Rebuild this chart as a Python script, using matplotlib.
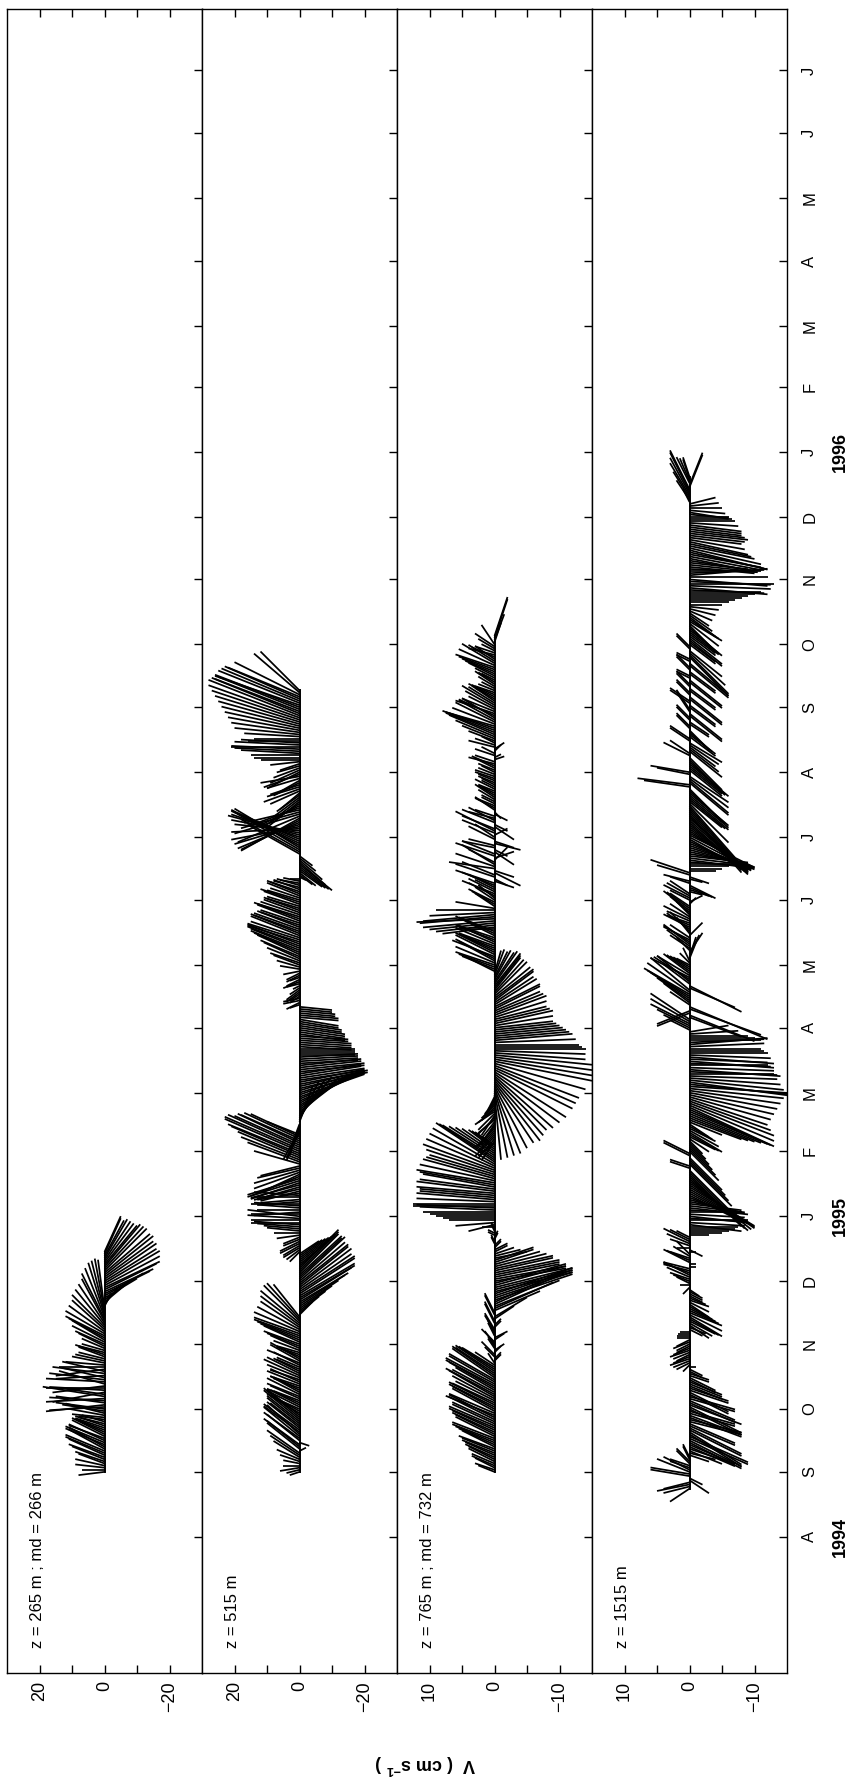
import numpy as np
import matplotlib
matplotlib.use('Agg')
import matplotlib.pyplot as plt
import matplotlib.dates as mdates
import matplotlib.transforms as mtransforms
from matplotlib.collections import LineCollection
from datetime import datetime

plt.rcParams['font.family'] = ['Liberation Sans', 'DejaVu Sans']
plt.rcParams['mathtext.fontset'] = 'custom'
plt.rcParams['mathtext.rm'] = 'Liberation Sans'
plt.rcParams['mathtext.bf'] = 'Liberation Sans:bold'

# --- data: one stick per day, day offsets counted from 1 Sep 1994
# v = across component (cm/s, drawn across the panel), u = along-time component (cm/s)
t_ref = datetime(1994, 9, 1)

start1 = 0
v1 = [8, 7, 9, 9, 8, 9, 10, 11, 11, 12,
      12, 11, 11, 12, 12, 11, 11, 10, 10, 9,
      8, 9, 9, 8, 7, 8, 10, 11, 12, 13,
      15, 17, 18, 15, 17, 18, 19, 14, 16, 17,
      18, 16, 14, 18, 17, 13, 15, 16, 13, 15,
      14, 12, 10, 9, 8, 8, 9, 8, 7, 7,
      8, 9, 10, 10, 11, 12, 12, 11, 10, 10,
      9, 8, 7, 7, 6, 5, 4, 3, 2, -2,
      -4, -6, -8, -10, -12, -14, -15, -16, -17, -17,
      -17, -16, -16, -15, -15, -14, -13, -12, -11, -10,
      -9, -8, -7, -6, -5, -5]
u1 = [-1, 0, 1, 2, 3, 3, 4, 4, 5, 5,
      5, 6, 6, 5, 5, 5, 4, 5, 5, 4,
      3, 3, 3, 2, 2, 1, 1, 2, 3, 2,
      2, -1, -2, 2, 1, -1, 3, 2, -3, 1,
      0, -2, 4, 1, 2, 3, -1, 2, 3, -2,
      0, 1, 2, 2, 2, 3, 3, 2, 2, 3,
      4, 4, 5, 6, 6, 6, 7, 8, 9, 10,
      11, 12, 13, 14, 15, 16, 16, 16, 15, 4,
      5, 5, 6, 6, 7, 7, 7, 8, 8, 9,
      10, 10, 11, 11, 12, 12, 13, 13, 13, 12,
      12, 12, 12, 11, 11, 11]

start2 = 0
v2 = [3, 4, 6, 5, 5, 6, 7, 8, 9, 10,
      -2, 10, 10, 11, -3, 10, 11, 11, 10, 11,
      11, 10, 9, 10, 10, 11, 11, 10, 10, 9,
      9, 10, 10, 9, 8, 9, 10, 10, 9, 8,
      8, 9, 10, 9, 9, 10, 11, 10, 8, 7,
      7, 8, 10, 9, 9, 7, 6, 7, 8, 9,
      10, 11, 11, 12, 13, 14, 14, 14, 13, 12,
      12, 12, 11, 10, 8, -4, -6, -8, -10, -12,
      -14, -15, -16, -17, -17, -17, -17, -16, -16, -15,
      -15, -14, -14, -13, -13, -12, -12, -12, -11, -11,
      -10, -9, -8, -7, -6, 3, 4, 5, 5, 6,
      6, 5, 5, 7, 8, 10, 11, 13, 14, 15,
      15, 16, 16, 15, 14, 13, 13, 14, 15, 13,
      12, 13, 14, 13, 12, 13, 14, 15, 15, 16,
      16, 15, 13, 14, 14, 13, 12, 14, 16, 18,
      19, 21, 22, 23, 23, 22, 20, 19, 18, 17,
      15, 10, 4, 5, 4, 3, 3, -4, -6, -8,
      -10, -12, -13, -14, -15, -16, -17, -18, -19, -20,
      -20, -20, -20, -21, -21, -20, -20, -20, -20, -19,
      -19, -20, -20, -19, -19, -18, -18, -18, -18, -17,
      -17, -17, -17, -16, -16, -16, -16, -15, -15, -14,
      -14, -14, -14, -13, -13, -12, -12, -12, -12, -11,
      -11, -10, -10, 3, 4, 5, 5, 3, 3, 4,
      4, 3, 2, 4, 5, 4, 3, 4, 4, 5,
      6, 7, 8, 9, 10, 11, 12, 13, 14, 15,
      15, 16, 16, 16, 16, 15, 15, 15, 14, 14,
      13, 12, 12, 13, 14, 13, 12, 11, 11, 10,
      10, 11, 12, 10, 9, 10, 10, 9, 8, 8,
      7, 6, 5, 3, -2, -4, -5, -7, -8, -9,
      -10, -8, -7, -5, -4, 16, 18, 19, 20, 21,
      21, 20, 19, 21, 22, 21, 20, 21, 21, 20,
      19, 18, 18, 19, 20, 18, 17, 14, 12, 11,
      10, 9, 8, 7, 6, 9, 11, 10, 9, 8,
      7, 10, 12, 11, 10, 9, 8, 7, 6, 9,
      12, 14, 15, 18, 20, 21, 21, 20, 18, 16,
      14, 17, 20, 21, 22, 23, 24, 25, 26, 27,
      28, 28, 27, 26, 25, 26, 26, 25, 24, 23,
      22, 20, 14, 12]
u2 = [-1, -1, -1, 0, 1, 2, 3, 5, 6, 7,
      1, 8, 8, 8, -1, 8, 8, 9, 9, 8,
      8, 8, 7, 8, 8, 9, 9, 8, 6, 5,
      4, 5, 5, 4, 3, 4, 4, 5, 5, 4,
      3, 3, 4, 4, 3, 4, 5, 5, 4, 3,
      3, 4, 4, 5, 5, 3, 2, 2, 3, 4,
      4, 4, 5, 5, 5, 5, 5, 6, 7, 8,
      9, 10, 11, 11, 10, 4, 5, 6, 7, 8,
      9, 9, 10, 10, 10, 11, 11, 11, 12, 12,
      12, 12, 13, 12, 12, 12, 12, 12, 10, 9,
      8, 7, 6, 5, 4, -3, -3, -3, -3, -3,
      -3, -2, -2, -1, 0, 1, 1, 1, 1, 0,
      0, 1, 2, 0, -1, 0, 1, 1, 0, -1,
      -1, 0, 1, -2, -3, -3, -4, -4, -5, -5,
      -5, -6, -6, -5, -4, -3, -3, 4, 6, 7,
      8, 9, 9, 10, 10, 10, 9, 9, 8, 8,
      7, 4, -8, -9, -10, -9, -8, 11, 12, 12,
      12, 11, 10, 10, 10, 9, 9, 8, 8, 7,
      7, 6, 6, 5, 5, 4, 4, 3, 3, 3,
      3, 2, 2, 2, 2, 1, 1, 1, 1, 0,
      0, 0, 0, -1, -1, -1, -1, -1, -1, -2,
      -2, -2, -2, -2, -2, -2, -2, -1, -1, -1,
      -1, -1, -1, -1, -2, -1, -1, -2, -2, -3,
      -3, -2, -1, -1, -2, -2, -1, -2, -2, -1,
      1, 2, 3, 3, 4, 5, 5, 6, 6, 6,
      6, 6, 6, 5, 5, 5, 6, 6, 5, 5,
      5, 4, 4, 5, 5, 4, 4, 4, 4, 3,
      3, 4, 4, 3, 3, 4, 4, 3, 3, 2,
      2, 1, 1, 0, -1, -3, -4, -5, -6, -7,
      -8, -7, -6, -4, -3, 9, 10, 11, 12, 11,
      10, 9, 8, 7, 6, 4, 2, -1, -4, -6,
      -8, -9, -10, -8, -6, -5, -4, -5, -6, -7,
      -8, -7, -6, -5, -5, -4, -4, -3, -3, -4,
      -4, -3, -2, -4, -5, -4, -3, -2, -2, -1,
      0, 0, 0, 1, 1, 1, 0, 1, 1, 0,
      0, 1, 2, 3, 4, 5, 6, 7, 8, 9,
      10, 11, 11, 10, 10, 10, 9, 10, 10, 10,
      9, 10, 12, 12]

start3 = 0
v3 = [2.5, 3, 3, 3.5, 3.5, 4, 4, 4.5, 4.5, 5,
      5, 5.5, 5, 5.5, 6, 6.5, 6.5, 6, 6, 6.5,
      6.5, 7, 7, 6.5, 6.5, 7, 7, 7.5, 7, 6.5,
      6.5, 7, 7, 6.5, 6, 6.5, 7, 7.5, 6.5, 6,
      7, 7.5, 7.5, 7, 7, 6.5, 6.5, 6, 6, 5.5,
      5, 3, 1, -1, -1, 1.5, 2, -1, -1.5, 1,
      1, 1.5, 2, -1.5, -2, 1, 1, 1.5, 1.5, -1,
      -1, 1.5, 1.5, -3, -5, 1.5, 1.5, -7, -9, -10,
      -11, -11, -12, -12, -12, -12, -12, -12, -12, -11,
      -11, -11, -11, -10, -10, -10, -9, -9, -8, -7,
      -6, -6, -5, -4, -3, -2, -2, -1, -1, 0.5,
      0.5, -0.5, -0.5, 1, 1, 0.5, 0.5, 2, 4, 6,
      7, 8, 9, 10, 11, 11.5, 12, 12.5, 12.5, 12,
      12, 11.5, 11.5, 12, 12, 11.5, 11, 11.5, 12, 11.5,
      11, 10.5, 10, 10.5, 11, 10.5, 10, 9.5, 9, 8.5,
      8, 7, 6, 5, 4, 3.5, 3, 2.5, 2, 2.5,
      3, 2.5, 2, 2.5, 3, 2.5, 2, 2, 2.5, 2.5,
      2, 2.5, 3, 2.5, 2, 2, 1.5, 1.5, 1, 1,
      -1, -2, -3, -4, -5, -6, -7, -7.5, -8, -9,
      -10, -11, -12, -12.5, -13, -14, -15, -15, -15, -15,
      -14, -14, -14, -13.5, -13, -12.5, -12, -11.5, -11, -10.5,
      -10, -9.5, -9, -9, -9, -8.5, -8, -8, -8, -7.5,
      -7, -7, -7, -6.5, -6, -6, -6, -5.5, -5, -4.5,
      -4, -4, -4, -3.5, -3, -2.5, -2, -1.5, -1, 4,
      5, 5.5, 6, 6, 5.5, 6, 6.5, 6, 6, 5.5,
      5, 5.5, 6, 5.5, 5.5, 6, 6, 5.5, 5, 6,
      8, 9, 10, 11, 12, 11.5, 11, 10, 9, 6,
      3, 3.5, 4, 3, 2.5, 4, 5, 4, 3, 4,
      5, 6, -3, -2, 6, 5, -4, -3, 7, 6,
      5, 4, -2, -3, 6, 5, -3, -2, 5, 4,
      -4, -3, 4, 3, -2, 5, 6, 5, -3, -2,
      5, 4, 4, 3, -2, -1, 3, 3, 2.5, 2,
      2, 2.5, 3, 2.5, 2, 2.5, 3, 2, 2, 2.5,
      2.5, 3, 3, 2.5, 2, 2.5, 3, 3.5, 4, 3,
      -1.5, -1, 3, 2, -1, -1.5, 4, 3, 2, 4,
      5, 6, 7, 7.5, 8, 7.5, 7, 6.5, 6, 5.5,
      5, 5.5, 6, 5, 4, 4.5, 5, 4, 3, 3.5,
      4, 3.5, 3, 2.5, 2, 2.5, 3, 2.5, 2, 3,
      4, 4.5, 5, 5.5, 6, 5.5, 5, 4, 3, 3.5,
      4, 3, 2, 2.5, 3, 2, -1, -1.5, -2, -2]
u3 = [1, 1, 1.5, 1.5, 1.5, 2, 2, 2, 2, 2,
      2, 2, 2.5, 2.5, 2.5, 2.5, 2.5, 3, 3, 3,
      3, 3, 3, 3, 3, 3.5, 3.5, 3, 3, 3.5,
      3.5, 3.5, 3.5, 3, 3, 3.5, 4, 4, 3.5, 3.5,
      4, 4, 4, 4, 4, 4.5, 4.5, 4, 4, 3.5,
      3, 2, 1.5, 1, 1, 1.5, 2, 1, 1, 1.5,
      1.5, 2, 2, 1, 1, 2, 2, 2.5, 2.5, 1,
      1, 3, 3, 2, 3, 3, 3, 3, 4, 4,
      5, 5, 4, 4, 4, 4, 3, 3, 3, 3,
      3, 2, 2, 2, 2, 2, 2, 2, 2, 2,
      2, 2, 1, 1, 1, 1, 1, 1, 1, 1,
      1, 1, 1, 0.5, 0.5, 1, 1, 0, -1, -0.5,
      0, 0, 0, 0, 0, 0.5, 0.5, 0, 0, 0.5,
      1, 1, 1, 1, 1.5, 1.5, 2, 2, 2, 2.5,
      3, 3, 3, 3.5, 4, 4.5, 5, 5.5, 6, 5.5,
      5, 4.5, 4, 3.5, 3, 2.5, 2, -2, -3, -3,
      -3, -2.5, -2, -2.5, -3, -3, -3, -2.5, -2, -2.5,
      -3, -2.5, -2, -2, -2, -2, -2, -2, -2, -2,
      -10, -10, -10, -10, -9.5, -9, -9, -8.5, -8, -8,
      -7.5, -7, -6, -5.5, -5, -4, -3, -2.5, -2, -1.5,
      -1, -0.5, 0, 0, 0, 0.5, 1, 1, 1, 1,
      1, 1, 1, 1.5, 2, 2, 2, 2.5, 3, 3,
      3, 3.5, 3.5, 4, 4, 4.5, 4.5, 4.5, 5, 5,
      5, 5, 5, 5, 4.5, 4.5, 4, 4, 3.5, 2,
      2, 2, 2, 2.5, 3, 3, 2.5, 3, 3, 2.5,
      2, 2, 2.5, 2.5, 2, 2, 3, 2.5, 2, 0,
      -1, -1, -1, -1, -0.5, -1, -1, -0.5, 0, 1,
      2, 2, 2, 2, 2, 2, 2, 2, 1.5, 2,
      2, 2, -1, -1, 2, 2, -2, -1, 1, 2,
      3, 2, 2, 1, 2, 2, -2, -1, 1, 1,
      -1, -1, 2, 2, 1, 2, 3, 2, -2, -1,
      2, 2, 1, 1, -1, -1, 2, 1.5, 1, 1,
      1, 1.5, 2, 1.5, 1, 1, 1.5, 1, 1, 1,
      1, 1, 1, 1, 1, 1, 1.5, 1.5, 1, 1,
      0.5, 0.5, 1, 1, 1, 1, 1, 1, 1, 1.5,
      2, 2.5, 3, 3, 3, 2.5, 2, 2.5, 3, 3,
      3, 2.5, 2, 2, 2, 2.5, 3, 2.5, 2, 2,
      2, 1.5, 1, 1, 1, 1.5, 2, 1.5, 1, 1.5,
      2, 2, 2, 2, 2, 2.5, 3, 2.5, 2, 1.5,
      1, 1, 1, 1.5, 2, 3, 3, 4, 6, 6]

start4 = -8
v4 = [3, 4, 5, 4, -3, -2, 6, 6, 5, 4,
      3, 3, 2, 2, 1, 1, -3, -4, -5, -6,
      -7, -7, -8, -8, -9, -9, -8, -8, -8, -8,
      -7, -7, -8, -8, -8, -8, -7, -7, -8, -8,
      -8, -7, -7, -7, -7, -6, -6, -6, -6, -5,
      -5, -5, -4, -4, -3, -3, -2, -2, -1, 1,
      2, 2.5, 3, 2.5, 2, 2.5, 3, 2.5, 2, 2,
      2.5, 2, 2, 2, 1.8, 1.5, -2, -2.5, -3, -3.5,
      -4, -4.5, -5, -5, -5, -4.5, -4, -3.5, -3, -3,
      -3, -2.5, -2, -2, -2, -1.5, 1, 1.5, 2, 2.5,
      3, 3.5, 4, 4, 4, 4, -1, -1, 4, 3.5,
      3, 2.5, 2, -1, -2, 2, 3, 3.5, 4, 3,
      2, -3, -5, -6, -7, -7.5, -8, -8.5, -9, -9,
      -9, -8.5, -8, -8.5, -9, -8.5, -8, -7.5, -7, -7.5,
      -8, -8.5, -9, -9.5, -10, -10, -10, -9.5, -9, -8.5,
      -8, -7.5, -7, 3, 3, -6.5, -6, -5.5, -5, 4,
      4, -4.5, -4, -3.5, -3, -2.5, -2, -3, -4, -4.5,
      -5, -4.5, -4, -3.5, -3, -5, -8, -9, -10, -11,
      -12, -12.5, -13, -13, -13, -12.5, -12, -12.5, -13, -13.5,
      -14, -14.5, -15, -15, -15, -14.5, -14, -13.5, -13, -13.5,
      -14, -13, -12, -12.5, -13, -12, -13, -12.5, -12, -11.5,
      -11, -11.5, -12, -11.5, -11, -10, -9, -7.5, -6, 3,
      4, 5, 6, 6, 6, -8, -10, 5, 5, -11,
      -12, 3, 4, 5, 6, 6.5, 7, 6.5, 6, -7,
      -8, 4, 5, 5.5, 6, 5, 4, 3.5, 3, 2.5,
      2, 1.5, 1, -1, -1, -1.5, -2, 2, 3, 3.5,
      4, 4, 4, 3, -2, 2, 3, 3.5, 4, 3.5,
      3, 3.5, 4, 3, 2, 3, 4, 3.5, 3, -1,
      -2, 3, 4, 3.5, 3, -2, -3, -3.5, -4, 3,
      4, -2, -3, 5, 6, -4, -5, -6, -7, -7.5,
      -8, -8.5, -9, -9, -9, -9.5, -10, -10, -10, -9.5,
      -9, -9.5, -10, -9.5, -9, -9, -9, -9, -9, -9,
      -9, -8.5, -8, -8, -8, -7.5, -7, -6, -5, -5.5,
      -6, -6, -6, -5.5, -5, 7, 8, -6, -6, -6,
      -6, 5, 6, -5, -5, -5.5, -6, -5.5, -5, -5,
      4, 3, -5, -4.5, -4, -4.5, -5, 3, 3, -4,
      -4, -3.5, -3, 2, 2, -3, -3, 2, 2, -5,
      -5, 2, 2, -4, -4, 3, 3, -5, -5, 2,
      2, -4, -4, 2, 2, -5, -5, 2, 2, -4,
      -4, 2, 2, -6, -6, 2, 2, -6, -6, -5.5,
      -5, 2, 2, -4, -4, -5, -5, -4, -4, -4.5,
      -5, -4.5, -4, -4.5, -5, -4.5, -4, -3.5, -3, -3.5,
      -4, -4.5, -5, -6, -7, -8, -9, -10, -11, -11.5,
      -12, -12.5, -13, -12.5, -12, -12, -12, -11.5, -11, -10.5,
      -10, -9.5, -9, -9.5, -10, -10.5, -11, -11.5, -12, -11,
      -10, -9.5, -9, -8.5, -8, -8.5, -9, -8.5, -8, -8,
      -8, -7.5, -7, -6.5, -6, -6, -6, -5.5, -5, -4.5,
      -4, 1, 2, 2.5, 3, 3, 3, 3, -2, -2,
      2, 1.5, 1, 1]
u4 = [-2, -1, -1, -1, -2, -1, 1, 1, 2, 2,
      1, 1, 2, 2, 2, 2, -1, -1, -2, -2,
      -3, -3, -4, -4, -4, -4, -5, -5, -4, -4,
      -3, -3, -2, -2, -3, -3, -2, -2, -4, -4,
      -3, -3, -3, -2, -2, -3, -3, -2, -2, -2,
      -2, -2, -2, -2, -1, -1, -1, -1, 0, -1,
      -1, -1, -1, -1, -1, -1, -1, -1, -1, -1,
      -1, -1, 0, 0, 0, 0, -1, -1, -2, -2,
      -2, -2.5, -3, -2.5, -2, -2, -2, -2, -2, -1.5,
      -1, -1, -1, -1, -1, -1, -1, 0, 1, 1,
      1, 1.5, 2, 1.5, 1, 1, 0, 0, 2, 1.5,
      1, 1.5, 2, 0, -1, 0, 1, 1.5, 2, 1.5,
      1, 0, 0, 0, 0, 0, -1, -0.5, 0, -0.5,
      -1, -0.5, 0, -0.5, -1, -1, -1, -1.5, -2, -3,
      -4, -4.5, -5, -5.5, -6, -6.5, -7, -7.5, -8, -8,
      -8, -7.5, -7, 1, 1, -6.5, -6, -5.5, -5, 2,
      2, -4.5, -4, -3.5, -3, -2.5, -2, -2, -2, -2.5,
      -3, -2.5, -2, -2, -2, -2, -3, -3.5, -4, -4.5,
      -5, -5.5, -6, -5.5, -5, -4.5, -4, -3.5, -3, -2.5,
      -2, -1.5, -1, -1.5, -2, -1.5, -1, -0.5, 0, -0.5,
      -1, -0.5, 0, -0.5, -1, -0.5, -1, -0.5, 0, 0,
      0, 0.5, 1, 0.5, 0, 0, 0, 0.5, 1, 1.5,
      2, 2.5, 3, 3.5, 4, -3, -4, -2, -2, -4,
      -5, 2, 3, 3.5, 4, 4, 4, 4.5, 5, -3,
      -4, 3, 4, 3.5, 3, 3, 3, 2.5, 2, 1.5,
      1, 1.5, 2, 2.5, 3, 3, 3, 2, 2, 2.5,
      3, 2.5, 2, 2, 2, 2.5, 3, 2.5, 2, 1.5,
      1, 1.5, 2, 2, 2, 2.5, 3, 2.5, 2, 1,
      1, 1.5, 2, 2, 2, -0.5, -1, -1.5, -2, 1,
      1, -0.5, -1, 1.5, 2, 0, 0, 0, 0, -0.5,
      -1, -1, -1, -1.5, -2, -2.5, -3, -3.5, -4, -4.5,
      -5, -5, -5, -5.5, -6, -6.5, -7, -7.5, -8, -8,
      -8, -8.5, -9, -9, -9, -8.5, -8, -6, -4, -4.5,
      -5, -5, -5, -5, -5, 1, 1, -5, -5, -4.5,
      -4, 1, 1, -4, -4, -4.5, -5, -5, -5, -5,
      2, 2, -4, -3.5, -3, -3, -3, 2, 2, -3,
      -3, -3, -3, 2, 2, -2, -2, 2, 2, -4,
      -4, 3, 3, -3, -3, 2, 2, -4, -4, 2,
      2, -3, -3, 2, 2, -4, -4, 1, 1, -3,
      -3, 2, 2, -5, -5, 1, 1, -6, -6, -5,
      -4, 2, 2, -3, -3, -4, -4, -3, -3, -3.5,
      -4, -4, -4, -3.5, -3, -3, -3, -2.5, -2, -1.5,
      -1, -0.5, 0, 0, 0, 0, 0, 0, 0, -0.5,
      -1, -0.5, 0, -0.5, -1, 0, 1, 0.5, 0, -0.5,
      -1, -1, -1, -1.5, -2, -2, -2, -2.5, -3, -2.5,
      -2, -2, -2, -1.5, -1, -1, -1, -1, -1, -1,
      -1, -0.5, 0, 0, 0, -0.5, -1, -0.5, 0, 0.5,
      1, 2, 3, 4, 5, 5.5, 6, 6, 5, 5,
      4, 3.5, 3, 3]

depth_labels = ['z = 265 m ; md = 266 m', 'z = 515 m',
                'z = 765 m ; md = 732 m', 'z = 1515 m']
v_limits = [30, 30, 15, 15]
v_major = [[20, 0, -20], [20, 0, -20], [10, 0, -10], [10, 0, -10]]
v_minor = [[10, -10], [10, -10], [5, -5], [5, -5]]
month_letters = ['A', 'S', 'O', 'N', 'D', 'J', 'F', 'M', 'A', 'M', 'J', 'J',
                 'A', 'S', 'O', 'N', 'D', 'J', 'F', 'M', 'A', 'M', 'J', 'J']
year_labels = ['1994', '1995', '1996']
year_dates = [datetime(1994, 8, 1), datetime(1995, 1, 1), datetime(1996, 1, 1)]
day_range = (-96, 698.3)  # plotted time window relative to 1 Sep 1994

starts = [start1, start2, start3, start4]
vs = [v1, v2, v3, v4]
us = [u1, u2, u3, u4]

# --- layout (pixels of the 850 x 1785 picture)
W, H = 850, 1785
left_px, right_px, top_px, bottom_px = 7, 787, 9, 1673
pw = (right_px - left_px) / 4
ph = bottom_px - top_px

fig = plt.figure(figsize=(W / 100, H / 100), dpi=100)
t0 = mdates.date2num(t_ref)
month_ticks = [mdates.date2num(datetime(1994 + (7 + i) // 12, (7 + i) % 12 + 1, 1))
               for i in range(len(month_letters))]

for i in range(4):
    ax = fig.add_axes([(left_px + i * pw) / W, 1 - bottom_px / H, pw / W, ph / H])
    lim = v_limits[i]
    ax.set_xlim(lim, -lim)
    ax.set_ylim(t0 + day_range[0], t0 + day_range[1])

    # days per cm/s so that each stick keeps its true direction on screen
    k = (pw / (2 * lim)) / (ph / (day_range[1] - day_range[0]))
    n = min(len(vs[i]), len(us[i]))
    v = np.array(vs[i][:n], dtype=float)
    u = np.array(us[i][:n], dtype=float)
    t = t0 + starts[i] + np.arange(n)
    segs = np.stack([np.column_stack([np.zeros_like(t), t]),
                     np.column_stack([v, t + u * k])], axis=1)
    ax.add_collection(LineCollection(segs, colors='k', linewidths=1.25,
                                     capstyle='butt'))
    ax.plot([0, 0], [t[0], t[-1]], color='k', lw=1.4)

    for sp in ax.spines.values():
        sp.set_linewidth(1.0)

    ax.set_yticks(month_ticks)
    ax.yaxis.set_ticks_position('right')
    ax.tick_params(axis='y', direction='in', length=5.8, width=1,
                   labelright=(i == 3), labelleft=False, labelrotation=90,
                   labelsize=12, pad=11)
    if i == 3:
        ax.set_yticklabels(month_letters)
        for lab in ax.get_yticklabels():
            lab.set_va('center')
    else:
        ax.set_yticklabels([])

    ax.set_xticks(v_major[i])
    ax.set_xticks(v_minor[i], minor=True)
    ax.tick_params(axis='x', which='both', direction='in', length=5.8, width=1,
                   top=True, bottom=True, labelrotation=90, labelsize=13, pad=6)

    ax.text(0.154, 0.015, depth_labels[i], transform=ax.transAxes, rotation=90,
            ha='center', va='bottom', fontsize=12)

    if i == 3:
        trans = mtransforms.blended_transform_factory(ax.transAxes, ax.transData)
        for lab, d in zip(year_labels, year_dates):
            ax.text((840 - (left_px + 3 * pw)) / pw, mdates.date2num(d), lab,
                    transform=trans, rotation=90, ha='center', va='center',
                    fontsize=13, fontweight='bold')

fig.text(425 / W, 1 - 1764 / H, r'V  ( cm s$^{\mathbf{-1}}$ )', rotation=180,
         ha='center', va='center', fontsize=13, fontweight='bold')

fig.savefig('out.png', dpi=100)
